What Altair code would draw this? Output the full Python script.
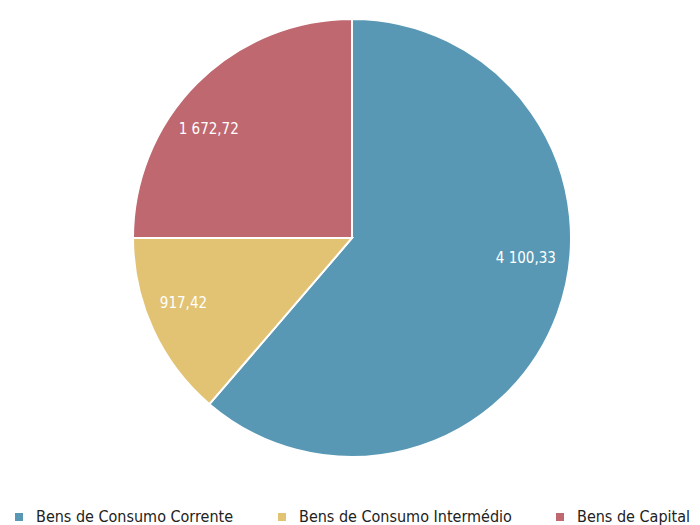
import altair as alt
import pandas as pd

categories = ["Bens de Consumo Corrente", "Bens de Consumo Intermédio", "Bens de Capital"]
values = [4100.33, 917.42, 1672.72]
labels = ["4 100,33", "917,42", "1 672,72"]
colors = ["#5898B4", "#E1C373", "#BF6870"]

df = pd.DataFrame({"cat": categories, "val": values, "lab": labels, "order": [0, 1, 2]})
TOTAL = sum(values)

FONT = "Liberation Sans Narrow, Arial Narrow, DejaVu Sans Condensed, Roboto Condensed, Roboto, sans-serif"
CX, CY, R = 344, 230, 219

color = alt.Color(
    "cat:N",
    scale=alt.Scale(domain=categories, range=colors),
    sort=categories,
    legend=alt.Legend(
        title=None,
        orient="none",
        direction="horizontal",
        legendX=3,
        legendY=501,
        symbolType="square",
        symbolSize=64,
        symbolStrokeWidth=0,
        labelFont=FONT,
        labelFontSize=16,
        labelColor="#222222",
        labelOffset=9,
        columnPadding=40,
        labelLimit=400,
    ),
)

pie = alt.Chart(df).mark_arc(outerRadius=R, stroke="white", strokeWidth=2).encode(
    theta=alt.Theta("val:Q", stack=True),
    order=alt.Order("order:Q"),
    color=color,
    x=alt.value(CX),
    y=alt.value(CY),
)

stacked = alt.Chart(df).transform_stack(
    stack="val", groupby=[], as_=["v0", "v1"], sort=[alt.SortField("order")]
).transform_calculate(mid="(datum.v0 + datum.v1) / 2")

offsets = [(5, -42), (-5, -10), (-16, 18)]
text_layers = []
for cat, (dx, dy) in zip(categories, offsets):
    t = stacked.transform_filter(alt.datum.cat == cat).mark_text(
        radius=180, font=FONT, fontSize=15, color="white", dx=dx, dy=dy
    ).encode(
        theta=alt.Theta("mid:Q", stack=None, scale=alt.Scale(domain=[0, TOTAL], range=[0, 6.283185307179586])),
        text="lab:N",
        x=alt.value(CX),
        y=alt.value(CY),
    )
    text_layers.append(t)

chart = alt.layer(pie, *text_layers).properties(
    width=684, height=517, padding=0, autosize="none"
).configure_view(stroke=None)

chart.save("out.html", embed_options={"renderer": "svg", "actions": False})
